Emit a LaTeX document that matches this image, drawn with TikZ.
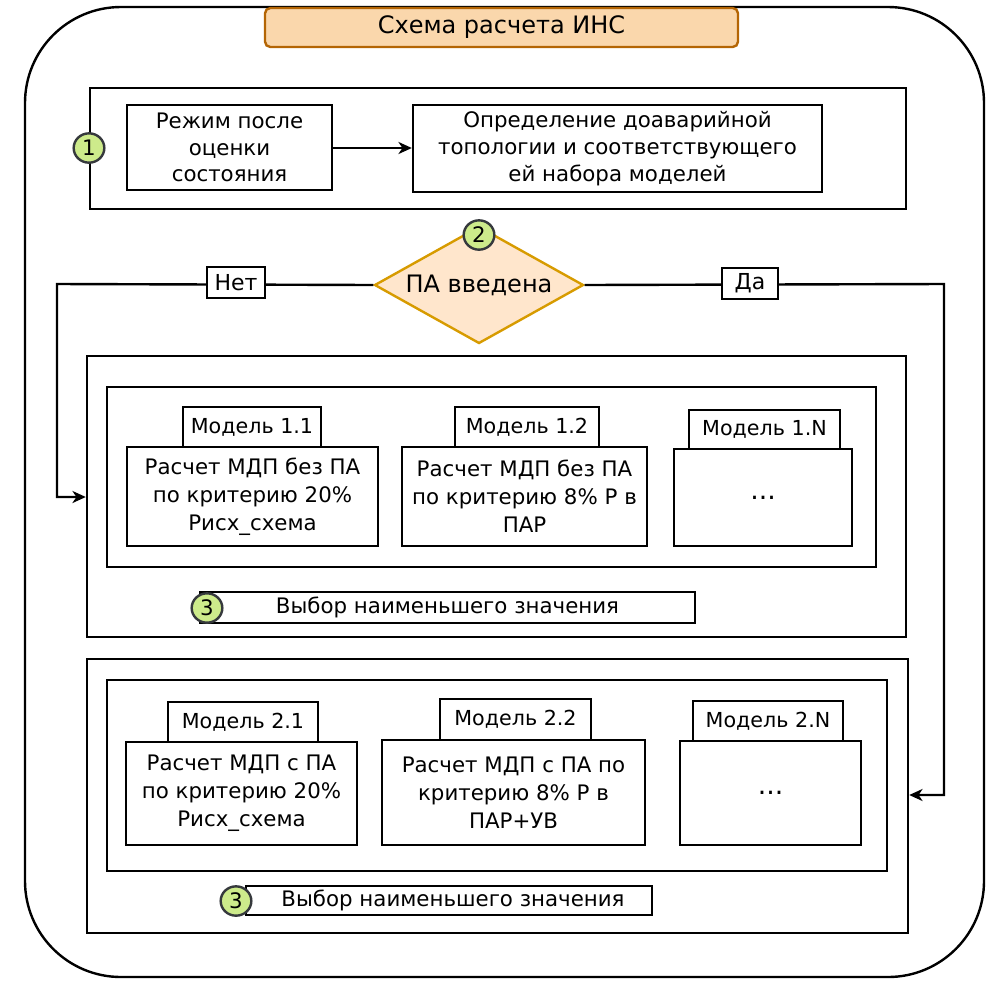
\documentclass[tikz,border=0pt]{standalone}
\usepackage{fontspec}
\setmainfont{DejaVu Sans}
\usetikzlibrary{shapes.geometric,arrows.meta}
\definecolor{titlefill}{HTML}{FAD7AC}
\definecolor{titledraw}{HTML}{B46504}
\definecolor{dfill}{HTML}{FFE6CC}
\definecolor{ddraw}{HTML}{D79B00}
\definecolor{cfill}{HTML}{CDEB8B}
\definecolor{cdraw}{HTML}{36393D}
\newcommand\rbox[6]{\node[#1, minimum width={(#4-#2)*0.75pt}, minimum height={(#5-#3)*0.75pt}] (#6) at ({(#2+#4)/2},{(#3+#5)/2})}
\tikzset{
  box/.style={draw=black, line width=1.8pt, fill=white, inner sep=0pt, align=center, font=\fontsize{16}{21}\selectfont},
  frame/.style={draw=black, line width=1.8pt, inner sep=0pt},
  tab/.style={draw=black, line width=1.8pt, fill=white, inner sep=0pt, align=center, font=\fontsize{15.5}{18}\selectfont},
  num/.style={ellipse, draw=cdraw, fill=cfill, line width=1.8pt, minimum width=23pt, minimum height=22pt, inner sep=0pt, font=\fontsize{16}{18}\selectfont},
  conn/.style={line width=1.8pt, -{Stealth[length=10pt,width=9pt,inset=3pt]}},
  yn/.style={draw=black, line width=1.8pt, fill=white, inner sep=0pt, font=\fontsize{16.5}{18}\selectfont},
}
\begin{document}
\begin{tikzpicture}[x=0.75pt,y=-0.75pt]
\useasboundingbox (0,0) rectangle (987,982);
% outer rounded frame
\draw[line width=1.8pt, rounded corners=72pt] (25,7) rectangle (984,977);
% title
\rbox{box, draw=titledraw, fill=titlefill, rounded corners=4pt, font=\fontsize{18}{20}\selectfont}{265}{8}{738}{47}{title} {Схема расчета ИНС};

% block 1
\rbox{frame}{90}{88}{906}{209}{b1} {};
\rbox{box, font=\fontsize{16}{20}\selectfont}{127}{105}{332}{190}{rezhim} {Режим после\\оценки\\состояния};
\rbox{box, font=\fontsize{16}{20}\selectfont}{413}{105}{822}{192}{opr} {Определение доаварийной\\топологии и соответствующего\\ей набора моделей};
\draw[conn] (rezhim.east |- 0,148) -- (opr.west |- 0,148);
\node[num] (n1) at (89,148) {1};

% decision
\node[diamond, draw=ddraw, fill=dfill, line width=1.8pt, minimum width=209*0.75pt, minimum height=117*0.75pt, inner sep=0pt, aspect=1.79, font=\fontsize{18}{20}\selectfont] (dec) at (479,285) {ПА введена};
\node[num] (n2) at (479,235) {2};

% block A
\rbox{frame}{87}{356}{906}{637}{bA} {};
\rbox{frame}{107}{387}{876}{567}{iA} {};
\rbox{tab}{183}{407}{321}{447}{t11} {Модель 1.1};
\rbox{box}{127}{447}{378}{546}{m11} {Расчет МДП без ПА\\по критерию 20\%\\Рисх\_схема};
\rbox{tab}{455}{407}{599}{447}{t12} {Модель 1.2};
\rbox{box}{402}{447}{647}{546}{m12} {Расчет МДП без ПА\\по критерию 8\% Р в\\ПАР};
\rbox{tab}{689}{410}{840}{449}{t1N} {Модель 1.N};
\rbox{box, font=\fontsize{20}{20}\selectfont}{674}{449}{852}{546}{m1N} {...};
\rbox{box}{200}{592}{695}{623}{vA} {Выбор наименьшего значения};
\node[num] (n3a) at (207,608) {3};

% block B
\rbox{frame}{87}{659}{908}{933}{bB} {};
\rbox{frame}{107}{680}{887}{871}{iB} {};
\rbox{tab}{168}{702}{318}{742}{t21} {Модель 2.1};
\rbox{box}{126}{742}{357}{845}{m21} {Расчет МДП с ПА\\по критерию 20\%\\Рисх\_схема};
\rbox{tab}{440}{699}{591}{740}{t22} {Модель 2.2};
\rbox{box}{382}{740}{645}{845}{m22} {Расчет МДП с ПА по\\критерию 8\% Р в\\ПАР+УВ};
\rbox{tab}{693}{701}{843}{741}{t2N} {Модель 2.N};
\rbox{box, font=\fontsize{20}{20}\selectfont}{680}{741}{861}{845}{m2N} {...};
\rbox{box}{246}{886}{652}{915}{vB} {\hspace*{6pt}Выбор наименьшего значения};
\node[num] (n3b) at (236,901) {3};

% connectors
\coordinate (lc) at (57,284);
\coordinate (rc) at (944,284);
\draw[conn] (dec.west) -- (lc) |- (bA.west |- 0,497);
\draw[conn] (dec.east) -- (rc) |- (bB.east |- 0,795);
\rbox{yn}{207}{267}{265}{298}{no} {Нет};
\rbox{yn}{722}{268}{778}{299}{yes} {Да};
\end{tikzpicture}
\end{document}
